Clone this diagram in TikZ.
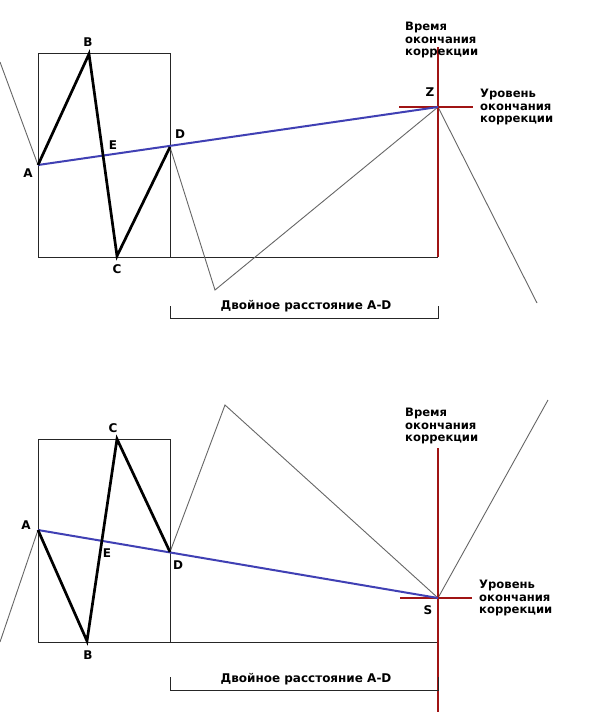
\documentclass[tikz,border=0pt]{standalone}
\usepackage{fontspec}
\setmainfont{DejaVu Sans}
\begin{document}
\begin{tikzpicture}[x=1pt,y=-1pt,
  wave/.style={line width=2.7pt,black,line join=miter},
  grey/.style={line width=0.9pt,black!60},
  frame/.style={line width=0.8pt,black!85},
  blueline/.style={line width=2pt,color=blueL},
  redline/.style={line width=2.4pt,color=redL},
  lbl/.style={font=\bfseries\fontsize{12}{12}\selectfont,inner sep=0pt},
  note/.style={font=\bfseries\fontsize{11.6}{12.5}\selectfont,align=left,inner sep=0pt,anchor=north west},
  dist/.style={font=\bfseries\fontsize{12}{12}\selectfont,inner sep=0pt},
  brk/.style={line width=0.8pt,black!85}]
\definecolor{blueL}{RGB}{64,64,180}
\definecolor{redL}{RGB}{160,20,20}
\useasboundingbox (0,0) rectangle (590,712);
\fill[white] (0,0) rectangle (590,712);
% ---------- top diagram ----------
\coordinate (tA) at (38,165);
\coordinate (tB) at (89,54);
\coordinate (tC) at (117,256);
\coordinate (tD) at (170,147);
\coordinate (tZ) at (438,107);
\coordinate (tP0) at (0,62);
\coordinate (tP1) at (215,290);
\coordinate (tP2) at (537,303);
\coordinate (tR1) at (38,53);
\coordinate (tR2) at (170,257);
\coordinate (tRb) at (438,257);
\draw[frame] (tR1) rectangle (tR2);
\draw[frame] (tR2) -- (tRb);
\draw[grey] (tP0) -- (tA);
\draw[grey] (tD) -- (tP1) -- (tZ) -- (tP2);
\draw[redline] (438,47) -- (tRb);
\draw[redline] (399,107) -- (473,107);
\draw[blueline] (tA) -- (tZ);
\draw[wave] (tA) -- (tB) -- (tC) -- (tD);
\node[lbl] (ltA) at (28,173) {A};
\node[lbl] (ltB) at (88,42) {B};
\node[lbl] (ltC) at (117,269) {C};
\node[lbl] (ltD) at (180,134) {D};
\node[lbl] (ltE) at (113,145) {E};
\node[lbl] (ltZ) at (430,92) {Z};
\node[note] (ttime) at (405,22) {Время\\окончания\\коррекции};
\node[note] (tlevel) at (480,89) {Уровень\\окончания\\коррекции};
\draw[brk] (170,306) -- (170,318) -- (438,318) -- (438,306);
\node[dist] (tdist) at (306,306) {Двойное расстояние A-D};
% ---------- bottom diagram ----------
\coordinate (bA) at (38,530);
\coordinate (bB) at (87,641);
\coordinate (bC) at (117,439);
\coordinate (bD) at (170,552);
\coordinate (bS) at (438,598);
\coordinate (bP0) at (0,642);
\coordinate (bP1) at (225,405);
\coordinate (bP2) at (548,400);
\coordinate (bR1) at (38,439);
\coordinate (bR2) at (170,642);
\coordinate (bRb) at (438,642);
\draw[frame] (bR1) rectangle (bR2);
\draw[frame] (bR2) -- (bRb);
\draw[grey] (bP0) -- (bA);
\draw[grey] (bD) -- (bP1) -- (bS) -- (bP2);
\draw[redline] (438,448) -- (438,712);
\draw[redline] (400,598) -- (472,598);
\draw[blueline] (bA) -- (bS);
\draw[wave] (bA) -- (bB) -- (bC) -- (bD);
\node[lbl] (lbA) at (26,525) {A};
\node[lbl] (lbB) at (88,655) {B};
\node[lbl] (lbC) at (113,428) {C};
\node[lbl] (lbD) at (178,565) {D};
\node[lbl] (lbE) at (107,553) {E};
\node[lbl] (lbS) at (428,610) {S};
\node[note] (btime) at (405,408) {Время\\окончания\\коррекции};
\node[note] (blevel) at (479,580) {Уровень\\окончания\\коррекции};
\draw[brk] (170,677) -- (170,690) -- (438,690) -- (438,677);
\node[dist] (bdist) at (306,679) {Двойное расстояние A-D};
\end{tikzpicture}
\end{document}
